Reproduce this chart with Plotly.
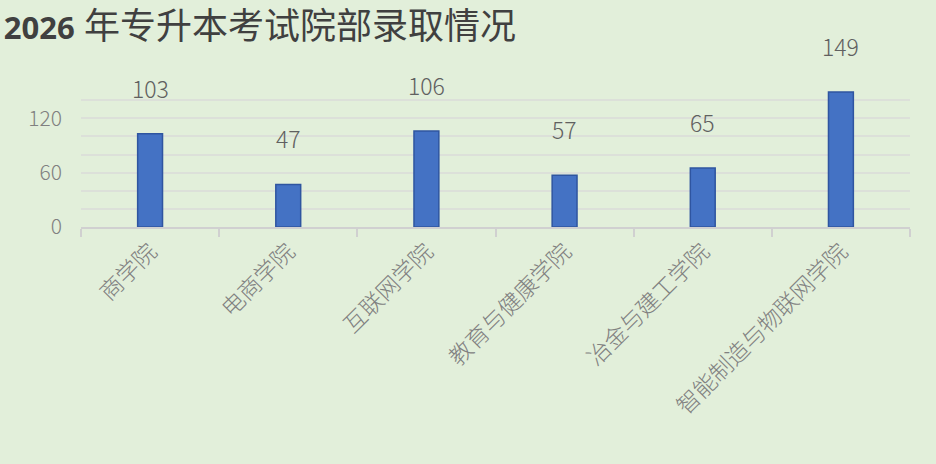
import plotly.graph_objects as go

colleges = ["商学院", "电商学院", "互联网学院", "教育与健康学院", "冶金与建工学院", "智能制造与物联网学院"]
admitted = [103, 47, 106, 57, 65, 149]

font_cn = "Noto Sans CJK SC, Noto Sans, sans-serif"

fig = go.Figure()
fig.add_trace(go.Bar(
    x = colleges,
    y = admitted,
    marker = dict(color = "#4472C4", line = dict(color = "#2F55A0", width = 1.5)),
    hoverinfo = "x+y"))

for name, val in zip(colleges, admitted):                                      # value labels floating above bars
    fig.add_annotation(x = name, y = val, text = str(val), showarrow = False,
                       yshift = 46, yanchor = "middle",
                       font = dict(family = font_cn, size = 23, color = "#606060", weight = 300))

fig.update_layout(
    width = 936, height = 464,
    paper_bgcolor = "#E2EFDA", plot_bgcolor = "#E2EFDA",
    margin = dict(l = 81, r = 26, t = 82, b = 237),
    bargap = 0.82,
    showlegend = False,
    title = dict(text = "<b><span style='font-size:31px'>2026</span></b> 年专升本考试院部录取情况",
                 x = 0.004, xanchor = "left", y = 0.944, yanchor = "middle",
                 font = dict(family = "Open Sans, " + font_cn, size = 36, color = "#404040")),
    xaxis = dict(tickangle = -45, tickfont = dict(family = font_cn, size = 23, color = "#808080", weight = 300),
                 showline = True, linecolor = "#D0D0D0", linewidth = 2, showgrid = False,
                 ticks = "outside", tickson = "boundaries", ticklen = 8,
                 tickcolor = "#D0D0D0", tickwidth = 2),
    yaxis = dict(range = [0, 160], tickvals = [0, 60, 120], showline = False,
                 tickfont = dict(family = font_cn, size = 21, color = "#808080", weight = 300),
                 gridcolor = "#DCE0D9", gridwidth = 2, zeroline = False,
                 minor = dict(dtick = 20, tick0 = 0, showgrid = True, gridcolor = "#DCE0D9", gridwidth = 2),
                 ticklabelstandoff = 18),
)

fig.write_html("out.html", config = {"displayModeBar": False},
               post_script = "document.body.style.margin='0';")
